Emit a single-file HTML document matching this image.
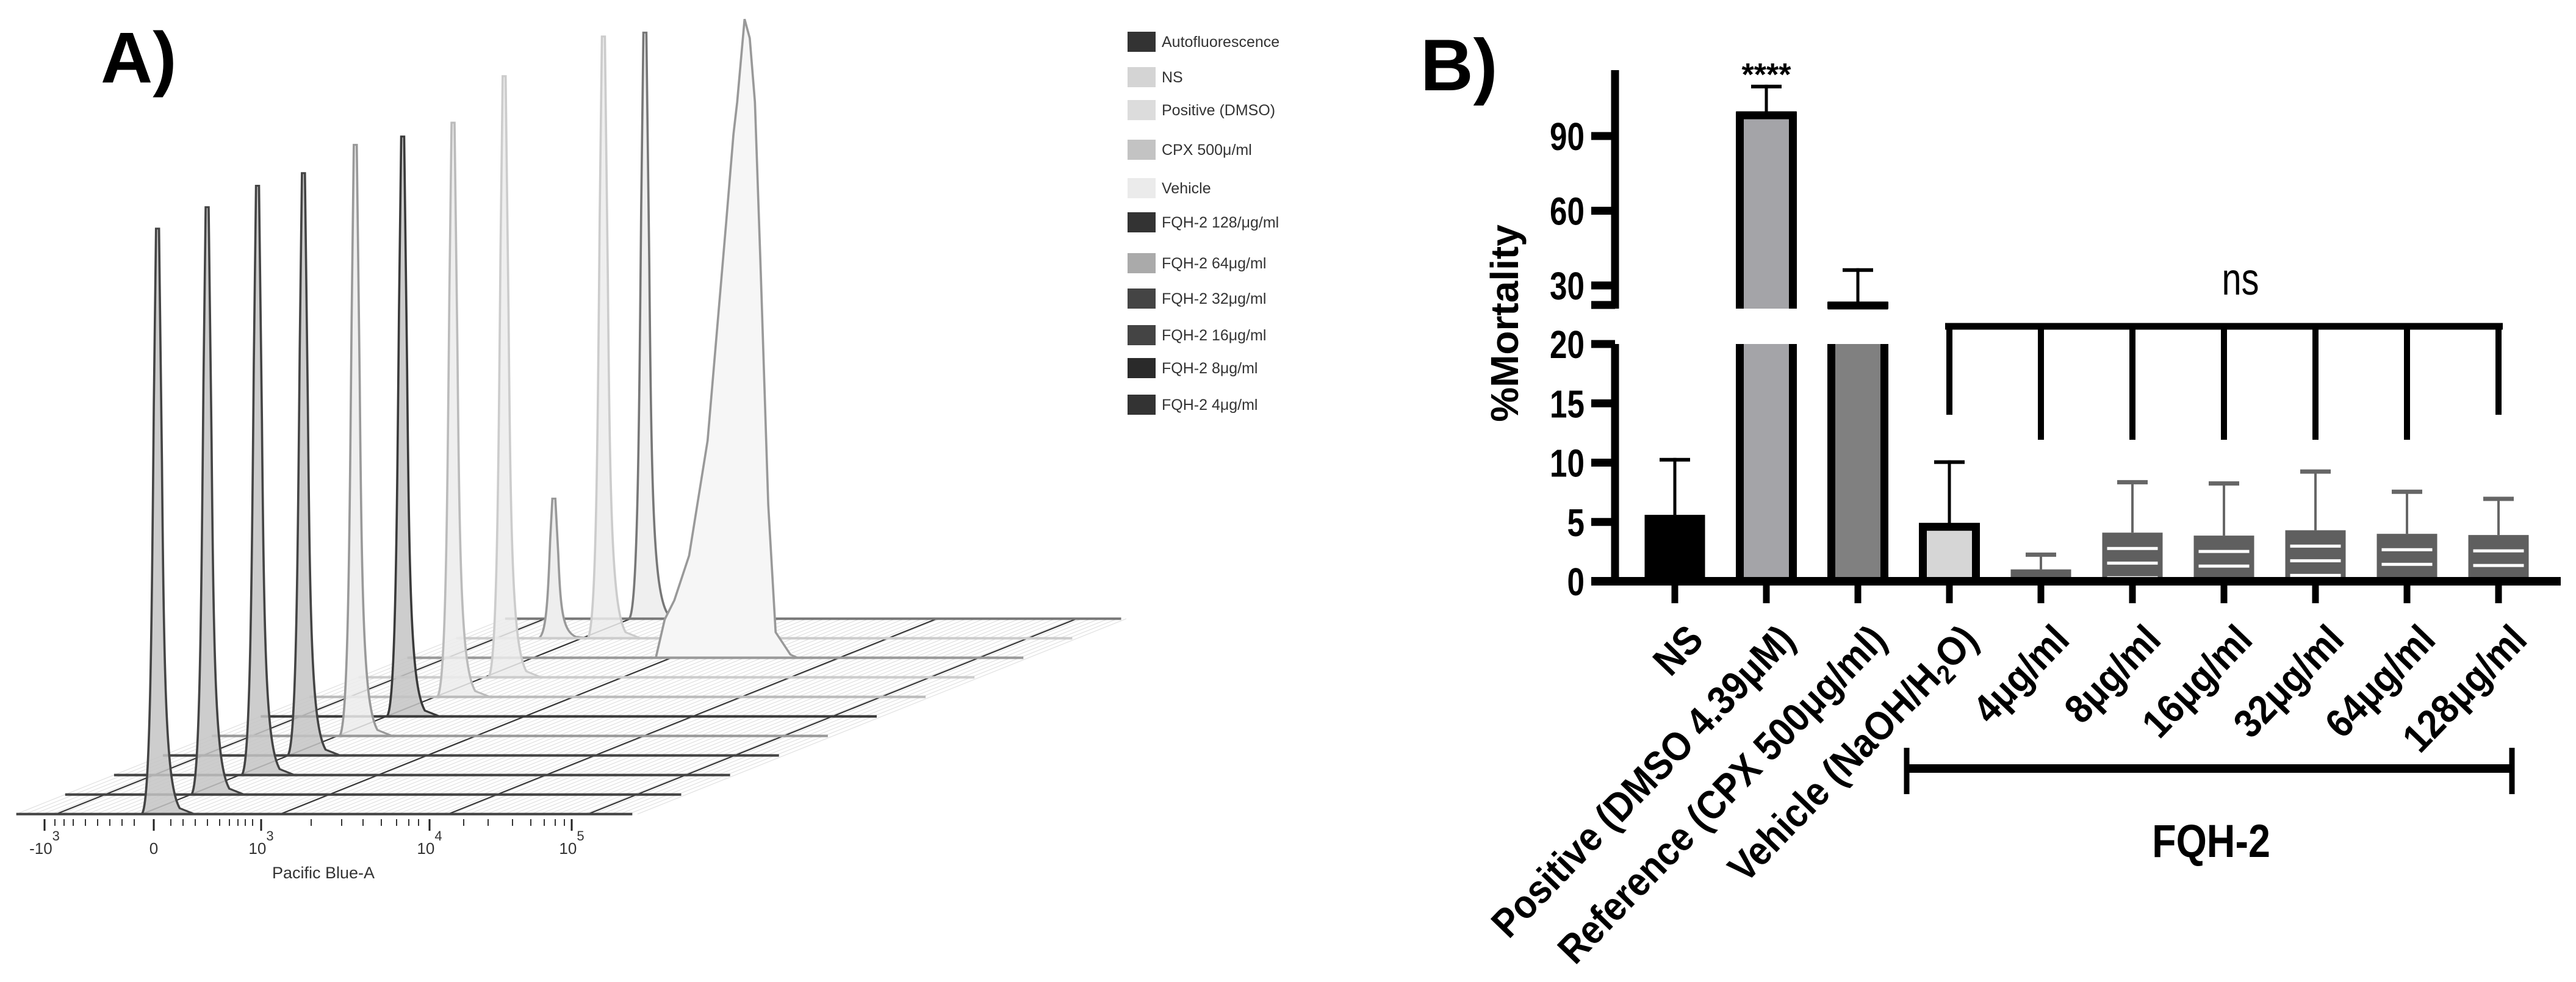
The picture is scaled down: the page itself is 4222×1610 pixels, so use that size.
<!DOCTYPE html>
<html><head><meta charset="utf-8"><style>
html,body{margin:0;padding:0;background:#fff;}
svg{display:block;}
</style></head><body>
<svg id="fig" xmlns="http://www.w3.org/2000/svg" width="4222" height="1610" viewBox="0 0 4222 1610" font-family="Liberation Sans, Arial, sans-serif">
<rect width="4222" height="1610" fill="#fff"/>
<text x="165" y="135" font-size="118" font-weight="bold">A)</text>
<g id="panelA" transform="scale(1.2121,1.0267)"></g>
<g id="axisA"></g>
<g id="legend"></g>
<text x="2328" y="148" font-size="120" font-weight="bold">B)</text>
<g id="panelB"></g>
</svg>
<script>
// ---------- Panel B data ----------
const categories = ["NS","Positive (DMSO 4.39μM)","Reference (CPX 500μg/ml)","Vehicle (NaOH/H2O)","4μg/ml","8μg/ml","16μg/ml","32μg/ml","64μg/ml","128μg/ml"];
const meanValues = [5.6, 99.8, 23.4, 4.9, 1.0, 4.1, 3.85, 4.3, 4.0, 3.9];
const errorTops = [10.4, 110.6, 36.9, 10.2, 2.4, 8.5, 8.4, 9.4, 7.7, 7.1];
const lowerTicks = [0,5,10,15,20];
const upperTicks = [30,60,90];

// ---------- Panel A data ----------
const legendLabels = ["Autofluorescence","NS","Positive (DMSO)","CPX 500μ/ml","Vehicle","FQH-2 128/μg/ml","FQH-2 64μg/ml","FQH-2 32μg/ml","FQH-2 16μg/ml","FQH-2 8μg/ml","FQH-2 4μg/ml"];
const legendColors = ["#333","#d4d4d4","#dcdcdc","#c3c3c3","#ebebeb","#333","#aaa","#444","#444","#2a2a2a","#333"];
const peakHeights = [935, 938, 941, 930, 944, 926, 917, 960, 1020, 961, 936];
const peakPositions = [191, 192, 194, 190, 194, 192, 194, 197, 456, 199, 189];
const smallPeakHeight = [223];

const NS="http://www.w3.org/2000/svg";
function mk(tag, attrs, parent){const e=document.createElementNS(NS,tag);for(const k in attrs)e.setAttribute(k,attrs[k]);parent.appendChild(e);return e;}

// ===== Panel A =====
const A=document.getElementById('panelA');
const nS=11, x0=22, len=833, dxs=66.1, dys=-31.2, yFront=1300;
const seriesColors=["#444","#444","#444","#444","#999","#3a3a3a","#bbb","#ccc","#999","#ccc","#777"];
for(let i=0;i<=70;i++){
  const x=x0+i*12;
  const l=mk('line',{x1:x,y1:yFront,x2:x+dxs*10,y2:yFront+dys*10,stroke:'#e2e2e2','stroke-width':1.2},A);
  
  
}
[76,192,379,606,795].forEach(x=>{
  const l=mk('line',{x1:x,y1:yFront,x2:x+dxs*10,y2:yFront+dys*10,stroke:'#333','stroke-width':2},A);
  
  
});
function peakPath(px,b,h){
  const t=b-h;
  return `M${px-22},${b} C${px-10},${b} ${px-8},${b-0.3*h} ${px-5},${b-0.7*h} L${px-2},${t} L${px+2},${t} L${px+6},${b-0.6*h} C${px+9},${b-0.2*h} ${px+12},${b-0.05*h} ${px+30},${b-0.01*h} L${px+50},${b} Z`;
}
for(let k=nS-1;k>=0;k--){
  const b=yFront+dys*k, lx=x0+dxs*k;
  const col=seriesColors[k];
  if(k===8){
    const px=lx+peakPositions[k], h=peakHeights[k];
    const pts=[[-120,0.0],[-108,0.06],[-95,0.09],[-75,0.16],[-50,0.34],[-25,0.68],[-15,0.82],[-10,0.87],[0,1],[7,0.97],[14,0.87],[22,0.6],[32,0.24],[42,0.04],[62,0.005],[72,0]];
    let d=pts.map((p,i)=>(i?'L':'M')+(px+p[0])+','+(b-p[1]*h)).join(' ');
    const pk=mk('path',{d:d+' Z',fill:'#f6f6f6',stroke:'#999','stroke-width':3},A);
    
    
  } else {
    const pk=mk('path',{d:peakPath(lx+peakPositions[k],b,peakHeights[k]),fill:k<4||k===5?'#c4c4c4':'#ececec','fill-opacity':0.85,stroke:col,'stroke-width':3},A);
    
    
  }
  if(k===9){
    const sp=mk('path',{d:peakPath(lx+132,b,smallPeakHeight[0]),fill:'#eee',stroke:'#999','stroke-width':3},A);
    
    
  }
  const bl=mk('line',{x1:lx,y1:b,x2:lx+len,y2:b,stroke:col,'stroke-width':4},A);
  
  
}
const AX=document.getElementById('axisA');
const majorX=[73,252,428,704,937];
const majorLbl=[["-10","3"],["0",""],["10","3"],["10","4"],["10","5"]];
majorX.forEach((x,i)=>{
  mk('line',{x1:x,y1:1343,x2:x,y2:1362,stroke:'#222','stroke-width':3},AX);
  const t=mk('text',{x:x,y:1400,'font-size':26,'text-anchor':'middle',fill:'#333'},AX);
  
  
  t.textContent=majorLbl[i][0];
  if(majorLbl[i][1]){const s=mk('tspan',{dy:-22,'font-size':22},t);s.textContent=majorLbl[i][1];}
});
[90,105,120,140,160,180,200,220,280,300,320,340,360,376,390,402,414,510,560,595,625,650,670,686,760,800,840,870,892,910,925].forEach(x=>{
  mk('line',{x1:x,y1:1343,x2:x,y2:1354,stroke:'#333','stroke-width':2},AX);
});
const pb=mk('text',{x:530,y:1440,'font-size':27,'text-anchor':'middle',fill:'#333'},AX);


pb.textContent='Pacific Blue-A';
const LG=document.getElementById('legend');
const legY=[68,126,180,245,308,364,431,489,549,603,663];
legendLabels.forEach((lab,i)=>{
  const r=mk('rect',{x:1848,y:legY[i]-16,width:46,height:33,fill:legendColors[i]},LG);
  
  
  const t=mk('text',{x:1904,y:legY[i]+9,'font-size':25,fill:'#333'},LG);
  
  
  t.textContent=lab;
});

// ===== Panel B =====
const B=document.getElementById('panelB');
const axX=2647, y0=953, lowK=19.45, y90=223, upK=4.083, breakLow=564, breakHigh=506, topY=115;
function yLow(v){return y0-v*lowK;}
function yUp(v){return y90+(90-v)*upK;}
function yS(v){return v<=20 ? yLow(v) : (v<20.7? breakLow : yUp(v));}
const cx0=2745, step=150, bw=99;
function xC(i){return cx0+i*step;}
mk('line',{x1:axX,y1:topY,x2:axX,y2:breakHigh,stroke:'#000','stroke-width':13},B);
mk('line',{x1:axX,y1:breakLow,x2:axX,y2:y0,stroke:'#000','stroke-width':13},B);
mk('line',{x1:2608,y1:breakHigh-6,x2:axX,y2:breakHigh-6,stroke:'#000','stroke-width':13},B);
function tickLabel(v,y){
  const t=mk('text',{x:0,y:0,'font-size':64,'font-weight':'bold','text-anchor':'end',transform:`translate(2597,${y+23}) scale(0.8,1)`},B);
  
  
  t.textContent=v;
}
lowerTicks.forEach(v=>{
  const y=yLow(v);
  if(v>0) mk('line',{x1:2608,y1:y,x2:axX,y2:y,stroke:'#000','stroke-width':13},B);
  tickLabel(v,y);
});
upperTicks.forEach(v=>{
  const y=yUp(v);
  mk('line',{x1:2608,y1:y,x2:axX,y2:y,stroke:'#000','stroke-width':13},B);
  tickLabel(v,y);
});
const yt=mk('text',{x:0,y:0,'font-size':64,'font-weight':'bold','text-anchor':'middle',transform:'translate(2488,530) rotate(-90)'},B);


yt.textContent='%Mortality';
const fills=["#000","#a4a4a8","#808080","#d6d6d6"];
categories.forEach((c,i)=>{
  const x=xC(i)-bw/2, v=meanValues[i];
  const g=mk('g',{},B);
  
  
  const isFQ=i>=4;
  const ecol=isFQ?'#666':'#000';
  const et=yS(errorTops[i]), vt=yS(v);
  mk('line',{x1:xC(i),y1:vt,x2:xC(i),y2:et,stroke:ecol,'stroke-width':isFQ?4:5},g);
  mk('line',{x1:xC(i)-25,y1:et+3,x2:xC(i)+25,y2:et+3,stroke:ecol,'stroke-width':isFQ?7:6},g);
  if(v>20){
    [[breakLow,y0],[vt,breakHigh]].forEach(([a,b2],seg)=>{
      mk('rect',{x:x,y:a,width:bw,height:b2-a,fill:fills[i]},g);
      mk('line',{x1:x+6,y1:a,x2:x+6,y2:b2,stroke:'#000','stroke-width':13},g);
      mk('line',{x1:x+bw-6,y1:a,x2:x+bw-6,y2:b2,stroke:'#000','stroke-width':13},g);
      if(seg===1) mk('line',{x1:x,y1:a+6,x2:x+bw,y2:a+6,stroke:'#000','stroke-width':13},g);
    });
  } else if(i===0){
    mk('rect',{x:x,y:vt,width:bw,height:y0-vt,fill:'#000'},g);
  } else if(i===3){
    mk('rect',{x:x+6,y:vt+6,width:bw-12,height:y0-vt-6,fill:fills[3],stroke:'#000','stroke-width':13},g);
  } else {
    mk('rect',{x:x,y:vt,width:bw,height:y0-vt,fill:'#5f5f5f'},g);
    for(let s=26;s<y0-vt-4;s+=24){
      mk('line',{x1:x+8,y1:vt+s,x2:x+bw-8,y2:vt+s,stroke:'#fff','stroke-width':5},g);
    }
  }
  mk('line',{x1:xC(i),y1:y0,x2:xC(i),y2:989,stroke:'#000','stroke-width':11},B);
  const t=mk('text',{x:0,y:0,'font-size':66,'font-weight':'bold','text-anchor':'end',transform:`translate(${xC(i)+50},1052) rotate(-46) scale(0.9,1)`},B);
  
  
  if(c.indexOf('H2O')>=0){
    t.appendChild(document.createTextNode('Vehicle (NaOH/H'));
    const s=mk('tspan',{'font-size':44,dy:12},t);s.textContent='2';
    const s2=mk('tspan',{dy:-12},t);s2.textContent='O)';
  } else t.textContent=c;
});
mk('line',{x1:2608,y1:y0,x2:4197,y2:y0,stroke:'#000','stroke-width':14},B);
const st=mk('text',{x:xC(1),y:140,'font-size':52,'font-weight':'bold','text-anchor':'middle'},B);


st.textContent='****';
const br=mk('g',{},B);


mk('line',{x1:xC(3)-7,y1:535,x2:xC(9)+7,y2:535,stroke:'#000','stroke-width':11},br);
for(let i=3;i<=9;i++){
  mk('line',{x1:xC(i),y1:535,x2:xC(i),y2:(i===3||i===9)?680:721,stroke:'#000','stroke-width':10},br);
}
const nt=mk('text',{x:0,y:0,'font-size':74,'text-anchor':'middle',transform:'translate(3672,483) scale(0.78,1)'},B);


nt.textContent='ns';
const fb=mk('g',{},B);


mk('line',{x1:3125,y1:1260,x2:4117,y2:1260,stroke:'#000','stroke-width':14},fb);
mk('line',{x1:3125,y1:1226,x2:3125,y2:1302,stroke:'#000','stroke-width':9},fb);
mk('line',{x1:4117,y1:1226,x2:4117,y2:1302,stroke:'#000','stroke-width':9},fb);
const ft=mk('text',{x:0,y:0,'font-size':76,'font-weight':'bold','text-anchor':'middle',transform:'translate(3624,1405) scale(0.85,1)'},B);


ft.textContent='FQH-2';
</script>
</body></html>
